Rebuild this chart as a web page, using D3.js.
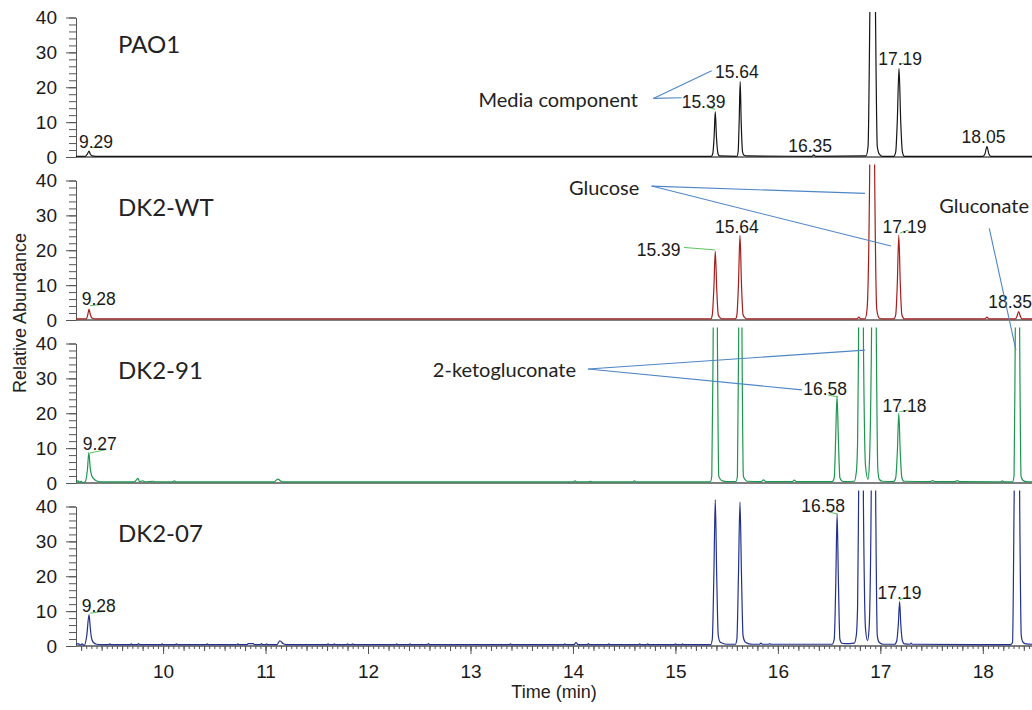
<!DOCTYPE html>
<html>
<head>
<meta charset="utf-8">
<script src="https://cdn.jsdelivr.net/npm/d3@7/dist/d3.min.js"></script>
<style>
  body { margin: 0; background: #fff; }
  svg { display: block; }
</style>
</head>
<body>
<div id="chart"></div>
<script>
// ---- data (time in min, relative abundance) ----
var panelNames = ['PAO1', 'DK2-WT', 'DK2-91', 'DK2-07'];
var timeTicks = [10, 11, 12, 13, 14, 15, 16, 17, 18];
var abundanceTicks = [0, 10, 20, 30, 40];

var pao1Trace = [
  [9.15, 0.2], [9.24, 0.2], [9.262, 0.9], [9.277, 1.7], [9.29, 0.8], [9.31, 0.3], [9.34, 0.2],
  [15.35, 0.2], [15.365, 1], [15.378, 6], [15.389, 13], [15.4, 6], [15.415, 1], [15.43, 0.3],
  [15.6, 0.2], [15.612, 1.5], [15.622, 10], [15.632, 21.6], [15.642, 10], [15.655, 1.5], [15.67, 0.5], [15.7, 0.3],
  [16.33, 0.2], [16.35, 0.6], [16.37, 0.2],
  [16.86, 0.3], [16.88, 3], [16.897, 40], [16.925, 150], [16.953, 40], [16.97, 3], [16.99, 0.8], [17.02, 0.2],
  [17.13, 0.2], [17.15, 1.5], [17.165, 10], [17.182, 25.4], [17.199, 10], [17.215, 1.5], [17.235, 0.2],
  [18.0, 0.2], [18.02, 0.8], [18.04, 3], [18.06, 0.8], [18.08, 0.2], [18.48, 0.2]
];

var dk2wtTrace = [
  [9.15, 0.3], [9.25, 0.3], [9.265, 1.5], [9.277, 3.1], [9.29, 1.5], [9.31, 0.5], [9.34, 0.3],
  [15.345, 0.3], [15.36, 1.5], [15.375, 9], [15.389, 19.7], [15.403, 9], [15.418, 1.5], [15.44, 0.5], [15.46, 0.3],
  [15.585, 0.3], [15.6, 1.5], [15.615, 10], [15.63, 24.3], [15.645, 10], [15.66, 1.5], [15.68, 0.6], [15.7, 0.3],
  [16.77, 0.3], [16.79, 0.8], [16.81, 0.3],
  [16.85, 0.3], [16.87, 3], [16.895, 40], [16.92, 150], [16.945, 40], [16.965, 3], [16.99, 0.5], [17.02, 0.3],
  [17.13, 0.3], [17.15, 1.5], [17.165, 10], [17.18, 24.3], [17.195, 10], [17.21, 1.5], [17.235, 0.3],
  [18.02, 0.3], [18.04, 0.8], [18.06, 0.3],
  [18.32, 0.3], [18.335, 1.2], [18.35, 2.4], [18.365, 1.2], [18.38, 0.3], [18.48, 0.3]
];

var dk291Trace = [
  [9.15, 0.3], [9.17, 0.6], [9.18, 0.2], [9.2, 0.5], [9.215, 0.1], [9.24, 0.4], [9.262, 4], [9.275, 8.7],
  [9.29, 4], [9.305, 2], [9.33, 1], [9.36, 0.5], [9.4, 0.3],
  [9.72, 0.3], [9.755, 1.3], [9.77, 0.4], [9.8, 0.6], [9.83, 0.3], [9.9, 0.5], [9.92, 0.3],
  [10.09, 0.3], [10.11, 0.6], [10.13, 0.3],
  [11.08, 0.3], [11.12, 1.1], [11.15, 0.5], [11.18, 0.3],
  [14.0, 0.3], [14.02, 0.6], [14.04, 0.3], [14.15, 0.3], [14.17, 0.5], [14.19, 0.3], [14.58, 0.3], [14.6, 0.6], [14.62, 0.3],
  [15.34, 0.3], [15.355, 2], [15.368, 40], [15.389, 150], [15.41, 40], [15.423, 2], [15.44, 1], [15.46, 0.6], [15.5, 0.4],
  [15.59, 0.4], [15.605, 2], [15.617, 40], [15.632, 150], [15.65, 40], [15.663, 2], [15.68, 1], [15.7, 0.5],
  [15.84, 0.4], [15.86, 0.9], [15.88, 0.4], [16.14, 0.4], [16.16, 0.8], [16.18, 0.4],
  [16.53, 0.4], [16.55, 1.5], [16.563, 12], [16.577, 25], [16.591, 12], [16.605, 1.5], [16.625, 0.6], [16.65, 0.4],
  [16.745, 0.5], [16.765, 3], [16.778, 12], [16.787, 40], [16.811, 150], [16.835, 40], [16.855, 5], [16.88, 1],
  [16.892, 5], [16.913, 40], [16.937, 150], [16.961, 40], [16.975, 4], [16.99, 1], [17.02, 0.5],
  [17.13, 0.4], [17.15, 1.5], [17.166, 9], [17.18, 20], [17.194, 9], [17.21, 1.5], [17.23, 0.5],
  [17.49, 0.4], [17.51, 0.7], [17.53, 0.4], [17.73, 0.4], [17.75, 0.7], [17.77, 0.4], [18.17, 0.3], [18.19, 0.6], [18.21, 0.3],
  [18.29, 0.3], [18.305, 2], [18.316, 40], [18.338, 150], [18.36, 40], [18.373, 2], [18.39, 0.8], [18.42, 0.4], [18.48, 0.3]
];

var dk207Trace = [
  [9.15, 0.4], [9.17, 0.7], [9.19, 0.3], [9.21, 0.6], [9.23, 0.2], [9.255, 3], [9.277, 9], [9.29, 5], [9.3, 2.5],
  [9.32, 1], [9.35, 0.5], [9.4, 0.4],
  [9.47, 0.4], [9.48, 0.6], [9.49, 0.4], [9.68, 0.4], [9.69, 0.6], [9.7, 0.4], [9.75, 0.4], [9.76, 0.7], [9.77, 0.4],
  [9.98, 0.4], [9.99, 0.6], [10.0, 0.4], [10.12, 0.4], [10.13, 0.6], [10.14, 0.4], [10.42, 0.4], [10.43, 0.6], [10.44, 0.4],
  [10.72, 0.4], [10.73, 0.6], [10.74, 0.4], [10.82, 0.4], [10.83, 0.7], [10.88, 0.7], [10.89, 0.4],
  [10.95, 0.4], [10.96, 0.7], [10.97, 0.4], [11.0, 0.4], [11.01, 0.6], [11.02, 0.4],
  [11.11, 0.4], [11.14, 1.5], [11.17, 0.7], [11.2, 0.4],
  [11.6, 0.4], [11.61, 0.6], [11.62, 0.4], [11.66, 0.4], [11.67, 0.6], [11.68, 0.4], [11.79, 0.4], [11.8, 0.6], [11.81, 0.4],
  [11.84, 0.4], [11.85, 0.6], [11.86, 0.4], [12.27, 0.4], [12.28, 0.6], [12.29, 0.4], [12.4, 0.4], [12.41, 0.6], [12.42, 0.4],
  [12.58, 0.4], [12.59, 0.7], [12.6, 0.4], [13.38, 0.4], [13.39, 0.6], [13.4, 0.4], [13.91, 0.4], [13.92, 0.6], [13.93, 0.4],
  [14.01, 0.4], [14.03, 1.0], [14.05, 0.4], [14.14, 0.4], [14.15, 0.7], [14.16, 0.4], [14.34, 0.4], [14.35, 0.6], [14.36, 0.4],
  [14.64, 0.4], [14.65, 0.6], [14.66, 0.4], [14.72, 0.4], [14.73, 0.6], [14.74, 0.4], [14.99, 0.4], [15.0, 0.6], [15.01, 0.4],
  [15.06, 0.4], [15.07, 0.6], [15.08, 0.4],
  [15.345, 0.4], [15.36, 2], [15.375, 20], [15.389, 42], [15.403, 20], [15.418, 3], [15.435, 1.2], [15.46, 0.8], [15.5, 0.5],
  [15.585, 0.5], [15.6, 2], [15.615, 20], [15.63, 41.3], [15.645, 20], [15.66, 3], [15.68, 1.2], [15.71, 0.7], [15.75, 0.5],
  [15.82, 0.5], [15.835, 0.8], [15.85, 0.5], [15.91, 0.5], [15.92, 0.7], [15.93, 0.5],
  [16.53, 0.5], [16.55, 2], [16.565, 18], [16.578, 37.9], [16.591, 18], [16.605, 2], [16.625, 0.8], [16.65, 0.7], [16.7, 0.7],
  [16.745, 0.8], [16.765, 3], [16.778, 11.7], [16.787, 40], [16.811, 150], [16.835, 40], [16.855, 5], [16.875, 1.5],
  [16.89, 5], [16.91, 40], [16.932, 150], [16.955, 40], [16.97, 3], [16.99, 1], [17.03, 0.5],
  [17.14, 0.5], [17.16, 1.5], [17.175, 6], [17.188, 12.7], [17.2, 6], [17.215, 1.5], [17.235, 0.6],
  [17.29, 0.5], [17.3, 0.8], [17.31, 0.5],
  [18.27, 0.4], [18.29, 1], [18.305, 40], [18.335, 150], [18.36, 40], [18.375, 3], [18.39, 1.2], [18.42, 0.6], [18.48, 0.5]
];

// peak labels: text, label time, label abundance, [leader t1, v1, t2, v2]
var pao1Labels = [
  ['9.29', 9.179, 2.5, 9.303, 2.67, 9.401, 2.95],
  ['15.39', 15.061, 14.0, 15.321, 14.25, 15.386, 13.7],
  ['15.64', 15.386, 22.6],
  ['16.35', 16.101, 1.5],
  ['17.19', 16.98, 26.4, 17.19, 26.6, 17.23, 26.9],
  ['18.05', 17.793, 3.9]
];
var dk2wtLabels = [
  ['9.28', 9.206, 4.3, 9.287, 4.1, 9.414, 4.5],
  ['15.39', 14.622, 18.4, 15.083, 20.8, 15.386, 20.1],
  ['15.64', 15.386, 25.0],
  ['17.19', 17.022, 25.0, 17.191, 24.9, 17.272, 25.8],
  ['18.35', 18.053, 3.4]
];
var dk291Labels = [
  ['9.27', 9.215, 9.5, 9.287, 8.6, 9.433, 9.5],
  ['16.58', 16.248, 25.2, 16.492, 25.2, 16.589, 24.7],
  ['17.18', 17.022, 20.4, 17.184, 20.4, 17.272, 20.9]
];
var dk207Labels = [
  ['9.28', 9.206, 9.8, 9.287, 9.4, 9.433, 10.0],
  ['16.58', 16.228, 38.4, 16.499, 38.4, 16.577, 37.9],
  ['17.19', 16.973, 13.5, 17.188, 13.2, 17.228, 13.8]
];

// compound call-outs: text at (panel, t, v), lines from origin to targets [panel, t, v]
var annotations = [
  { text: 'Media component', panel: 0, t: 14.635, v: 14.3, anchor: 'end',
    origin: [0, 14.784, 16.8], targets: [[0, 15.354, 24.7], [0, 15.061, 17.0]] },
  { text: 'Glucose', panel: 1, t: 14.647, v: 35.8, anchor: 'end',
    origin: [1, 14.768, 38.4], targets: [[1, 16.85, 36.3], [1, 17.104, 21.2]] },
  { text: 'Gluconate', panel: 1, t: 17.575, v: 30.8, anchor: 'start',
    origin: [1, 18.063, 26.3], targets: [[2, 18.323, 38.1]] },
  { text: '2-ketogluconate', panel: 2, t: 14.03, v: 30.5, anchor: 'end',
    origin: [2, 14.147, 32.7], targets: [[2, 16.85, 38.1], [2, 16.235, 26.7]] }
];

var traces = [pao1Trace, dk2wtTrace, dk291Trace, dk207Trace];
var peakLabels = [pao1Labels, dk2wtLabels, dk291Labels, dk207Labels];

// ---- layout ----
var width = 1032;
var height = 710;
var plotLeft = 76;
var firstTop = 17.5;
var panelStep = 163;
var panelHeight = 139.5;
var colors = ['#151515', '#a61c1c', '#1d9650', '#22308e'];
var axisColor = '#555';
var sansArial = '"Liberation Sans", Arial, sans-serif';
var sansCalibri = 'Lato, "Open Sans", sans-serif';

var svg = d3.select('#chart').append('svg')
  .attr('width', width)
  .attr('height', height);

var x = d3.scaleLinear().domain([9.15, 18.48]).range([plotLeft, width]);

var yScales = panelNames.map(function (name, i) {
  var top = firstTop + i * panelStep;
  return d3.scaleLinear().domain([0, 40]).range([top + panelHeight, top]);
});

var line = d3.line()
  .x(function (d) { return x(d[0]); })
  .curve(d3.curveMonotoneX);

var defs = svg.append('defs');

panelNames.forEach(function (name, i) {
  var y = yScales[i];
  var top = y(40);
  var g = svg.append('g').attr('class', 'panel');

  var clipTop = Math.max(12, top - 16);
  defs.append('clipPath').attr('id', 'clip' + i)
    .append('rect')
    .attr('x', plotLeft).attr('y', clipTop)
    .attr('width', width - plotLeft).attr('height', y(0) + 3 - clipTop);

  // baseline
  g.append('line')
    .attr('x1', plotLeft).attr('x2', width)
    .attr('y1', y(0)).attr('y2', y(0))
    .attr('stroke', axisColor)
    .attr('stroke-width', 1.6);

  // y axis: minor then major ticks
  var minor = g.append('g')
    .attr('transform', 'translate(' + plotLeft + ',0)')
    .call(d3.axisLeft(y).tickValues(d3.range(0, 41, 2)).tickSize(7).tickSizeOuter(0).tickFormat(''));
  minor.select('.domain').attr('stroke', axisColor);
  minor.selectAll('.tick line').attr('stroke', axisColor);

  var major = g.append('g')
    .attr('transform', 'translate(' + plotLeft + ',0)')
    .call(d3.axisLeft(y).tickValues(abundanceTicks).tickSize(10).tickPadding(9).tickSizeOuter(0));
  major.select('.domain').remove();
  major.selectAll('.tick line').attr('stroke', axisColor);
  major.selectAll('.tick text')
    .attr('fill', '#1a1a1a')
    .attr('font-family', sansArial)
    .attr('font-size', 19);

  // trace
  g.append('path')
    .datum(traces[i])
    .attr('clip-path', 'url(#clip' + i + ')')
    .attr('fill', 'none')
    .attr('stroke', colors[i])
    .attr('stroke-width', 1.2)
    .attr('stroke-linejoin', 'round')
    .attr('d', line.y(function (d) { return y(d[1]); }));

  // panel name
  g.append('text')
    .attr('x', x(9.56))
    .attr('y', y(29.8))
    .attr('font-family', sansCalibri)
    .attr('font-size', 24)
    .attr('fill', '#222')
    .text(name);

  // peak labels with small green leaders
  var labels = g.selectAll('.peak-label').data(peakLabels[i]).enter();
  labels.filter(function (d) { return d.length > 3; })
    .append('line')
    .attr('x1', function (d) { return x(d[3]); })
    .attr('y1', function (d) { return y(d[4]); })
    .attr('x2', function (d) { return x(d[5]); })
    .attr('y2', function (d) { return y(d[6]); })
    .attr('stroke', '#5cc25c')
    .attr('stroke-width', 1);
  labels.append('text')
    .attr('class', 'peak-label')
    .attr('x', function (d) { return x(d[1]); })
    .attr('y', function (d) { return y(d[2]); })
    .attr('font-family', sansArial)
    .attr('font-size', 17.5)
    .attr('fill', '#1a1a1a')
    .text(function (d) { return d[0]; });
});

// bottom time axis
var yBottom = yScales[3](0);
var xMinor = svg.append('g')
  .attr('transform', 'translate(0,' + yBottom + ')')
  .call(d3.axisBottom(x).tickValues(d3.range(184, 370).map(function (k) { return k / 20; }))
    .tickSize(3).tickSizeOuter(0).tickFormat(''));
xMinor.select('.domain').remove();
var xMid = svg.append('g')
  .attr('transform', 'translate(0,' + yBottom + ')')
  .call(d3.axisBottom(x).tickValues(d3.range(46, 93).map(function (k) { return k / 5; }))
    .tickSize(5).tickSizeOuter(0).tickFormat(''));
xMid.select('.domain').remove();
var xMajor = svg.append('g')
  .attr('transform', 'translate(0,' + yBottom + ')')
  .call(d3.axisBottom(x).tickValues(timeTicks).tickSize(8).tickPadding(11).tickSizeOuter(0)
    .tickFormat(d3.format('d')));
xMajor.select('.domain').remove();
svg.selectAll('.tick line').attr('stroke', axisColor);
xMajor.selectAll('.tick text')
  .attr('fill', '#1a1a1a')
  .attr('font-family', sansArial)
  .attr('font-size', 19);

// axis titles
svg.append('text')
  .attr('x', 554)
  .attr('y', 698)
  .attr('text-anchor', 'middle')
  .attr('font-family', sansArial)
  .attr('font-size', 18)
  .attr('fill', '#222')
  .text('Time (min)');

svg.append('text')
  .attr('transform', 'translate(26,' + 313 + ') rotate(-90)')
  .attr('text-anchor', 'middle')
  .attr('font-family', sansArial)
  .attr('font-size', 18)
  .attr('fill', '#222')
  .text('Relative Abundance');

// call-outs
var notes = svg.append('g').attr('class', 'annotations');
annotations.forEach(function (a) {
  var o = a.origin;
  a.targets.forEach(function (tg) {
    notes.append('line')
      .attr('x1', x(o[1])).attr('y1', yScales[o[0]](o[2]))
      .attr('x2', x(tg[1])).attr('y2', yScales[tg[0]](tg[2]))
      .attr('stroke', '#4f86c6')
      .attr('stroke-width', 1.1);
  });
  notes.append('text')
    .attr('x', x(a.t))
    .attr('y', yScales[a.panel](a.v))
    .attr('text-anchor', a.anchor)
    .attr('font-family', sansCalibri)
    .attr('font-size', 20)
    .attr('fill', '#222')
    .text(a.text);
});
</script>
</body>
</html>
